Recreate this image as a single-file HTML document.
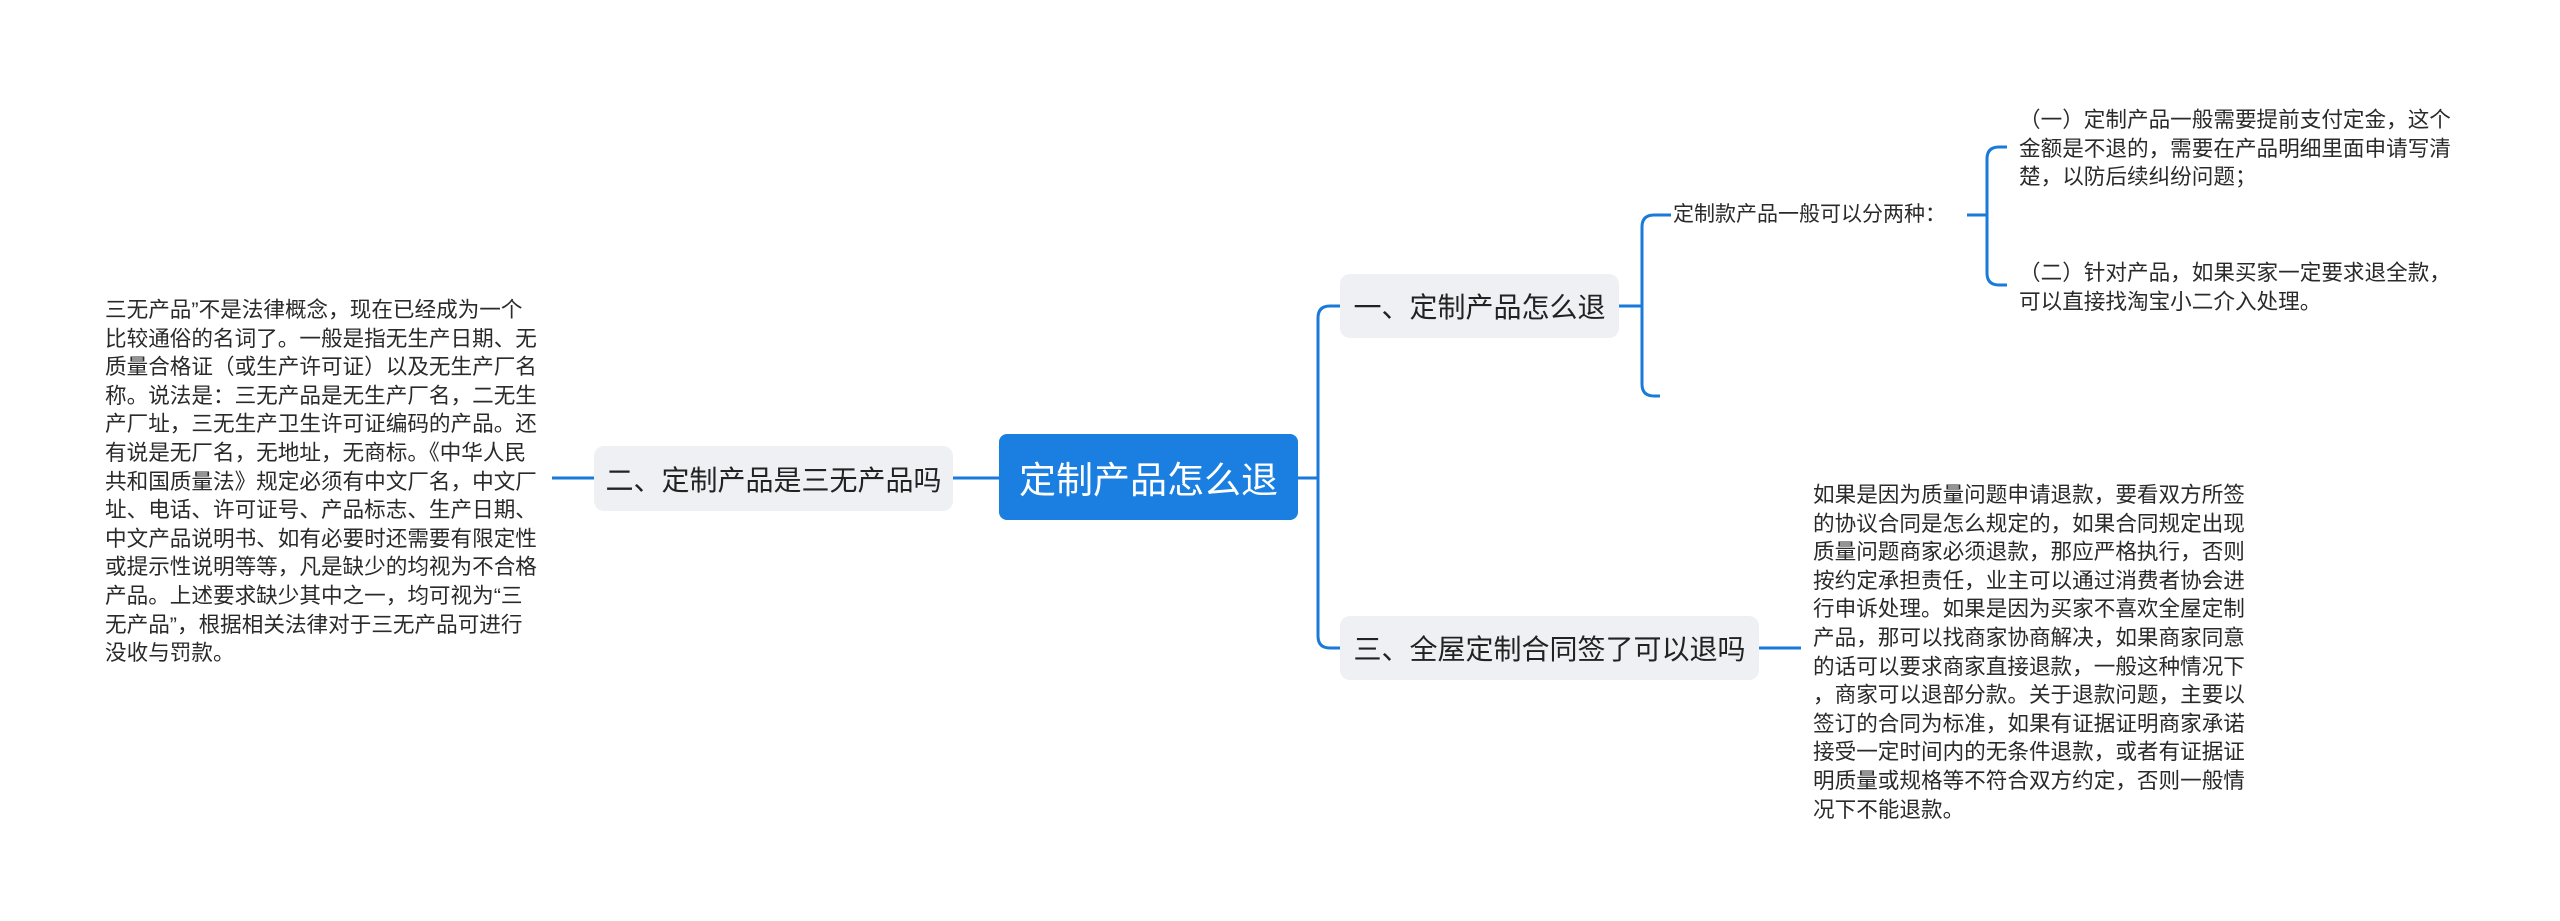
<!DOCTYPE html>
<html><head><meta charset="utf-8">
<style>
body{margin:0;width:2560px;height:921px;background:#fff;position:relative;overflow:hidden;font-family:"Liberation Sans","Noto Sans CJK SC",sans-serif;color:#333}
.n{position:absolute;box-sizing:border-box;background:#eef0f4;border-radius:10px;display:flex;align-items:center;justify-content:center;font-size:28px;color:#222;white-space:nowrap}
.t{position:absolute;font-size:21.6px;line-height:28.6px;white-space:nowrap;color:#2a2a2a}
svg{position:absolute;left:0;top:0}
</style></head><body>
<svg width="2560" height="921" fill="none" stroke="#1a7ad9" stroke-width="3">
<path d="M1298 478 H1318"/>
<path d="M1340 306 H1330 Q1318 306 1318 318 V636 Q1318 648 1330 648 H1340"/>
<path d="M999 478 H953"/>
<path d="M594 478 H552"/>
<path d="M1759 648 H1801"/>
<path d="M1619 306 H1642"/>
<path d="M1671 215 H1654 Q1642 215 1642 227 V384 Q1642 396 1654 396 H1660"/>
<path d="M1967 215 H1987"/>
<path d="M2007 147 H1999 Q1987 147 1987 159 V273 Q1987 285 1999 285 H2007"/>
</svg>
<div class="n" style="left:999px;top:434px;width:299px;height:86px;background:#1a7fe0;color:#fff;font-size:37px;border-radius:8px">定制产品怎么退</div>
<div class="n" style="left:594px;top:446px;width:359px;height:65px">二、定制产品是三无产品吗</div>
<div class="n" style="left:1340px;top:274px;width:279px;height:64px">一、定制产品怎么退</div>
<div class="n" style="left:1340px;top:616px;width:419px;height:64px">三、全屋定制合同签了可以退吗</div>
<div class="t" style="left:105px;top:296px">三无产品”不是法律概念，现在已经成为一个<br>比较通俗的名词了。一般是指无生产日期、无<br>质量合格证（或生产许可证）以及无生产厂名<br>称。说法是：三无产品是无生产厂名，二无生<br>产厂址，三无生产卫生许可证编码的产品。还<br>有说是无厂名，无地址，无商标。《中华人民<br>共和国质量法》规定必须有中文厂名，中文厂<br>址、电话、许可证号、产品标志、生产日期、<br>中文产品说明书、如有必要时还需要有限定性<br>或提示性说明等等，凡是缺少的均视为不合格<br>产品。上述要求缺少其中之一，均可视为“三<br>无产品”，根据相关法律对于三无产品可进行<br>没收与罚款。</div>
<div class="t" style="left:1673px;top:201px;font-size:21px">定制款产品一般可以分两种：</div>
<div class="t" style="left:2019px;top:106px">（一）定制产品一般需要提前支付定金，这个<br>金额是不退的，需要在产品明细里面申请写清<br>楚，以防后续纠纷问题；</div>
<div class="t" style="left:2019px;top:259px">（二）针对产品，如果买家一定要求退全款，<br>可以直接找淘宝小二介入处理。</div>
<div class="t" style="left:1813px;top:481px">如果是因为质量问题申请退款，要看双方所签<br>的协议合同是怎么规定的，如果合同规定出现<br>质量问题商家必须退款，那应严格执行，否则<br>按约定承担责任，业主可以通过消费者协会进<br>行申诉处理。如果是因为买家不喜欢全屋定制<br>产品，那可以找商家协商解决，如果商家同意<br>的话可以要求商家直接退款，一般这种情况下<br>，商家可以退部分款。关于退款问题，主要以<br>签订的合同为标准，如果有证据证明商家承诺<br>接受一定时间内的无条件退款，或者有证据证<br>明质量或规格等不符合双方约定，否则一般情<br>况下不能退款。</div>
</body></html>
